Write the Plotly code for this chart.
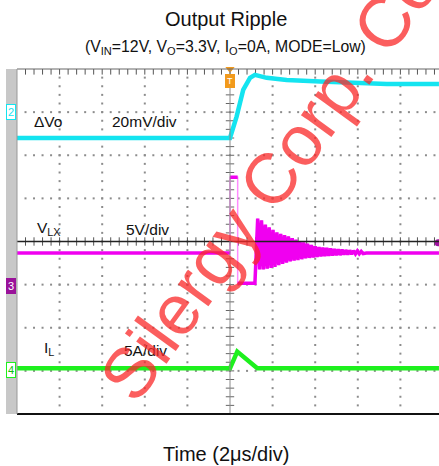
import plotly.graph_objects as go

# ---------------- data (time in us, 2 us/div, trigger at t = 0) ----------------
vo_t = [-10.0, 0.0, 0.31, 0.62, 0.94, 1.17, 1.72, 2.66, 4.23, 5.77, 7.36, 9.81]
vo_mv = [-12.0, -12.0, -2.1, 10.3, 15.9, 17.3, 15.9, 14.9, 14.2, 13.6, 13.1, 13.1]

vlx_t = [-10.0, 0.0, 0.0, 0.36, 0.36, 1.17,
         1.30, 1.39, 1.48, 1.57, 1.66, 1.75, 1.84, 1.93, 2.02, 2.11,
         2.20, 2.29, 2.38, 2.47, 2.56, 2.65, 2.74, 2.83, 2.92, 3.01,
         3.10, 3.19, 3.28, 3.37, 3.46, 3.55, 3.64, 3.73, 3.82, 3.91,
         4.00, 4.09, 4.18, 4.27, 4.36, 4.45, 4.54, 4.63, 4.72, 4.81,
         4.90, 4.99, 5.08, 5.17, 5.26, 5.35, 5.44, 5.53, 5.62, 5.71,
         5.80, 5.89, 5.98, 6.07, 6.16, 6.25, 6.40, 9.81]
vlx_v = [3.82, 3.82, 12.6, 12.6, 0.3, 0.3,
         7.8, 1.9, 7.6, 1.9, 7.1, 2.0, 6.8, 2.1, 6.5, 2.2,
         6.2, 2.4, 6.05, 2.55, 5.9, 2.7, 5.75, 2.85, 5.55, 2.95,
         5.35, 3.0, 5.2, 3.1, 5.05, 3.2, 4.9, 3.25, 4.75, 3.3,
         4.6, 3.35, 4.5, 3.43, 4.45, 3.47, 4.4, 3.5, 4.33, 3.52,
         4.28, 3.55, 4.24, 3.58, 4.2, 3.62, 4.16, 3.64, 4.12, 3.67,
         4.08, 3.7, 4.05, 3.72, 4.0, 3.74, 3.82, 3.82]

il_t = [-10.0, 0.0, 0.34, 1.28, 9.81]
il_a = [0.25, 0.25, 2.19, 0.25, 0.25]

# channel settings: (ground offset in divisions, units per division)
CH2 = (3.0, 20.0)    # dVo, mV/div
CH3 = (-1.03, 5.0)   # VLX, V/div
CH4 = (-2.99, 5.0)   # IL, A/div

FONT = "Arial, Liberation Sans, sans-serif"
CYAN = "#14e4f0"
MAG = "#f000f0"
MAG_LIGHT = "#ff8cff"
GRN = "#1ef01e"

X0, X1 = -10.516, 9.812

def ch_range(ch):
    off, sc = ch
    return [(-4 - off) * sc, (4 - off) * sc]

fig = go.Figure()

# ---------------- scope graticule ----------------
minor_x = [-10 + 0.4 * k for k in range(51)]
minor_y = [-4 + 0.2 * k for k in range(41)]
dx, dy = [], []
for gx in [-8, -6, -4, -2, 2, 4, 6, 8]:
    for yy in minor_y[1:-1]:
        dx.append(gx); dy.append(yy)
for gy in [-3, -2, -1, 1, 2, 3]:
    for xx in minor_x[1:]:
        dx.append(xx); dy.append(gy)
fig.add_trace(go.Scatter(x=dx, y=dy, mode="markers", hoverinfo="skip",
                         marker=dict(symbol="square", size=2, color="#8c8c8c", line_width=0)))

# center lines
fig.add_shape(type="line", x0=-10, x1=X1, y0=0, y1=0, line=dict(color="#222", width=1.5))
fig.add_shape(type="line", x0=0, x1=0, y0=-4, y1=4, line=dict(color="#8a8a8a", width=1))
fig.add_trace(go.Scatter(x=minor_x[1:], y=[0] * 50, mode="markers", hoverinfo="skip",
                         marker=dict(symbol="line-ns", size=6, line=dict(color="#555", width=1))))
fig.add_trace(go.Scatter(x=[0] * 39, y=minor_y[1:-1], mode="markers", hoverinfo="skip",
                         marker=dict(symbol="line-ew", size=6, line=dict(color="#666", width=1))))
fig.add_trace(go.Scatter(x=minor_x[1:], y=[4] * 50, mode="markers", hoverinfo="skip",
                         marker=dict(symbol="line-ns", size=8, line=dict(color="#555", width=1))))

# ---------------- waveforms ----------------
fig.add_trace(go.Scatter(x=vo_t, y=vo_mv, yaxis="y2", mode="lines", hoverinfo="skip",
                         line=dict(color=CYAN, width=4.5)))

# VLX: fast vertical edges drawn faint (as on the scope), levels drawn bold
fig.add_trace(go.Scatter(x=vlx_t, y=vlx_v, yaxis="y3", mode="lines", hoverinfo="skip",
                         line=dict(color=MAG_LIGHT, width=1.5)))
bold_t, bold_v = [], []
for i, (t, v) in enumerate(zip(vlx_t, vlx_v)):
    if i > 0 and t == vlx_t[i - 1]:
        bold_t.append(None); bold_v.append(None)
    bold_t.append(t); bold_v.append(v)
fig.add_trace(go.Scatter(x=bold_t, y=bold_v, yaxis="y3", mode="lines", hoverinfo="skip",
                         connectgaps=False, line=dict(color=MAG, width=3.5)))

fig.add_trace(go.Scatter(x=il_t, y=il_a, yaxis="y4", mode="lines", hoverinfo="skip",
                         line=dict(color=GRN, width=4.5)))

# markers: trigger position and trigger level
fig.add_trace(go.Scatter(x=[0], y=[4], mode="markers", cliponaxis=False, hoverinfo="skip",
                         marker=dict(symbol="triangle-down", size=8, color="#f29a1c")))
fig.add_trace(go.Scatter(x=[9.77], y=[-0.03], mode="markers", cliponaxis=False, hoverinfo="skip",
                         marker=dict(symbol="circle", size=7, color="#a010a0")))

# ---------------- layout ----------------
shapes = [
    dict(type="rect", xref="paper", yref="paper", x0=0, x1=11 / 433, y0=0, y1=1,
         fillcolor="#c8c8c8", line_width=0, layer="below"),
    dict(type="line", xref="paper", yref="paper", x0=11 / 433, x1=1, y0=1, y1=1,
         line=dict(color="#666", width=1)),
    dict(type="line", xref="paper", yref="paper", x0=11 / 433, x1=1, y0=0, y1=0,
         line=dict(color="#111", width=2)),
    dict(type="line", xref="paper", yref="paper", x0=11 / 433, x1=11 / 433, y0=0, y1=1,
         line=dict(color="#999", width=1)),
]
for s in shapes:
    fig.add_shape(**s)

def px_x(px):
    return (px - 6) / 433

def px_y(py):
    return (414 - py) / 345

C = dict(xanchor="center", yanchor="middle", showarrow=False, xref="paper", yref="paper")
ann = []
ann.append(dict(text="Output Ripple", x=px_x(226), y=px_y(19),
                font=dict(family=FONT, size=20, color="#111"), **C))
ann.append(dict(text="(V<sub>IN</sub>=12V, V<sub>O</sub>=3.3V, I<sub>O</sub>=0A, MODE=Low)",
                x=px_x(225), y=px_y(47),
                font=dict(family=FONT, size=15.8, color="#111"), **C))
ann.append(dict(text="Time (2\u03bcs/div)", x=px_x(226), y=px_y(454),
                font=dict(family=FONT, size=20, color="#111"), **C))

lab_font = dict(family=FONT, size=15.5, color="#111")
for txt, t, yv in [("\u0394Vo", -9.31, 2.78), ("20mV/div", -5.63, 2.78),
                   ("V<sub>LX</sub>", -9.15, 0.30), ("5V/div", -4.98, 0.27),
                   ("I<sub>L</sub>", -8.84, -2.47), ("5A/div", -5.08, -2.52)]:
    ann.append(dict(text=txt, x=t, y=yv, xref="x", yref="y", xanchor="left",
                    yanchor="middle", showarrow=False, font=lab_font))

# channel ground tags
tag = dict(x=-10.28, xref="x", showarrow=False, xanchor="center", yanchor="middle",
           borderwidth=1, borderpad=1)
ann.append(dict(text="2", y=0, yref="y2", font=dict(family=FONT, size=11, color=CYAN),
                bgcolor="white", bordercolor=CYAN, **tag))
ann.append(dict(text="3", y=0, yref="y3", font=dict(family=FONT, size=11, color="white"),
                bgcolor="#9a129a", bordercolor="#9a129a", **tag))
ann.append(dict(text="4", y=0, yref="y4", font=dict(family=FONT, size=11, color="#10c010"),
                bgcolor="white", bordercolor=GRN, **tag))
ann.append(dict(text="T", x=0, y=3.72, xref="x", yref="y", showarrow=False,
                xanchor="center", yanchor="middle",
                font=dict(family=FONT, size=9, color="white"), bgcolor="#f29a1c",
                bordercolor="#f29a1c", borderwidth=1, borderpad=1))

# watermark
ann.append(dict(text="Silergy Corp. Confidential", x=px_x(352), y=px_y(66),
                textangle=-54, font=dict(family=FONT, size=71, color="rgba(250,40,40,0.75)"),
                **C))

fig.update_layout(
    width=439, height=466,
    margin=dict(l=6, r=0, t=69, b=52),
    paper_bgcolor="white", plot_bgcolor="white",
    showlegend=False,
    xaxis=dict(range=[X0, X1], visible=False, fixedrange=True),
    yaxis=dict(range=[-4, 4], visible=False, fixedrange=True),
    yaxis2=dict(range=ch_range(CH2), overlaying="y", visible=False),
    yaxis3=dict(range=ch_range(CH3), overlaying="y", visible=False),
    yaxis4=dict(range=ch_range(CH4), overlaying="y", visible=False),
    annotations=ann,
)

fig.write_html("out.html")
